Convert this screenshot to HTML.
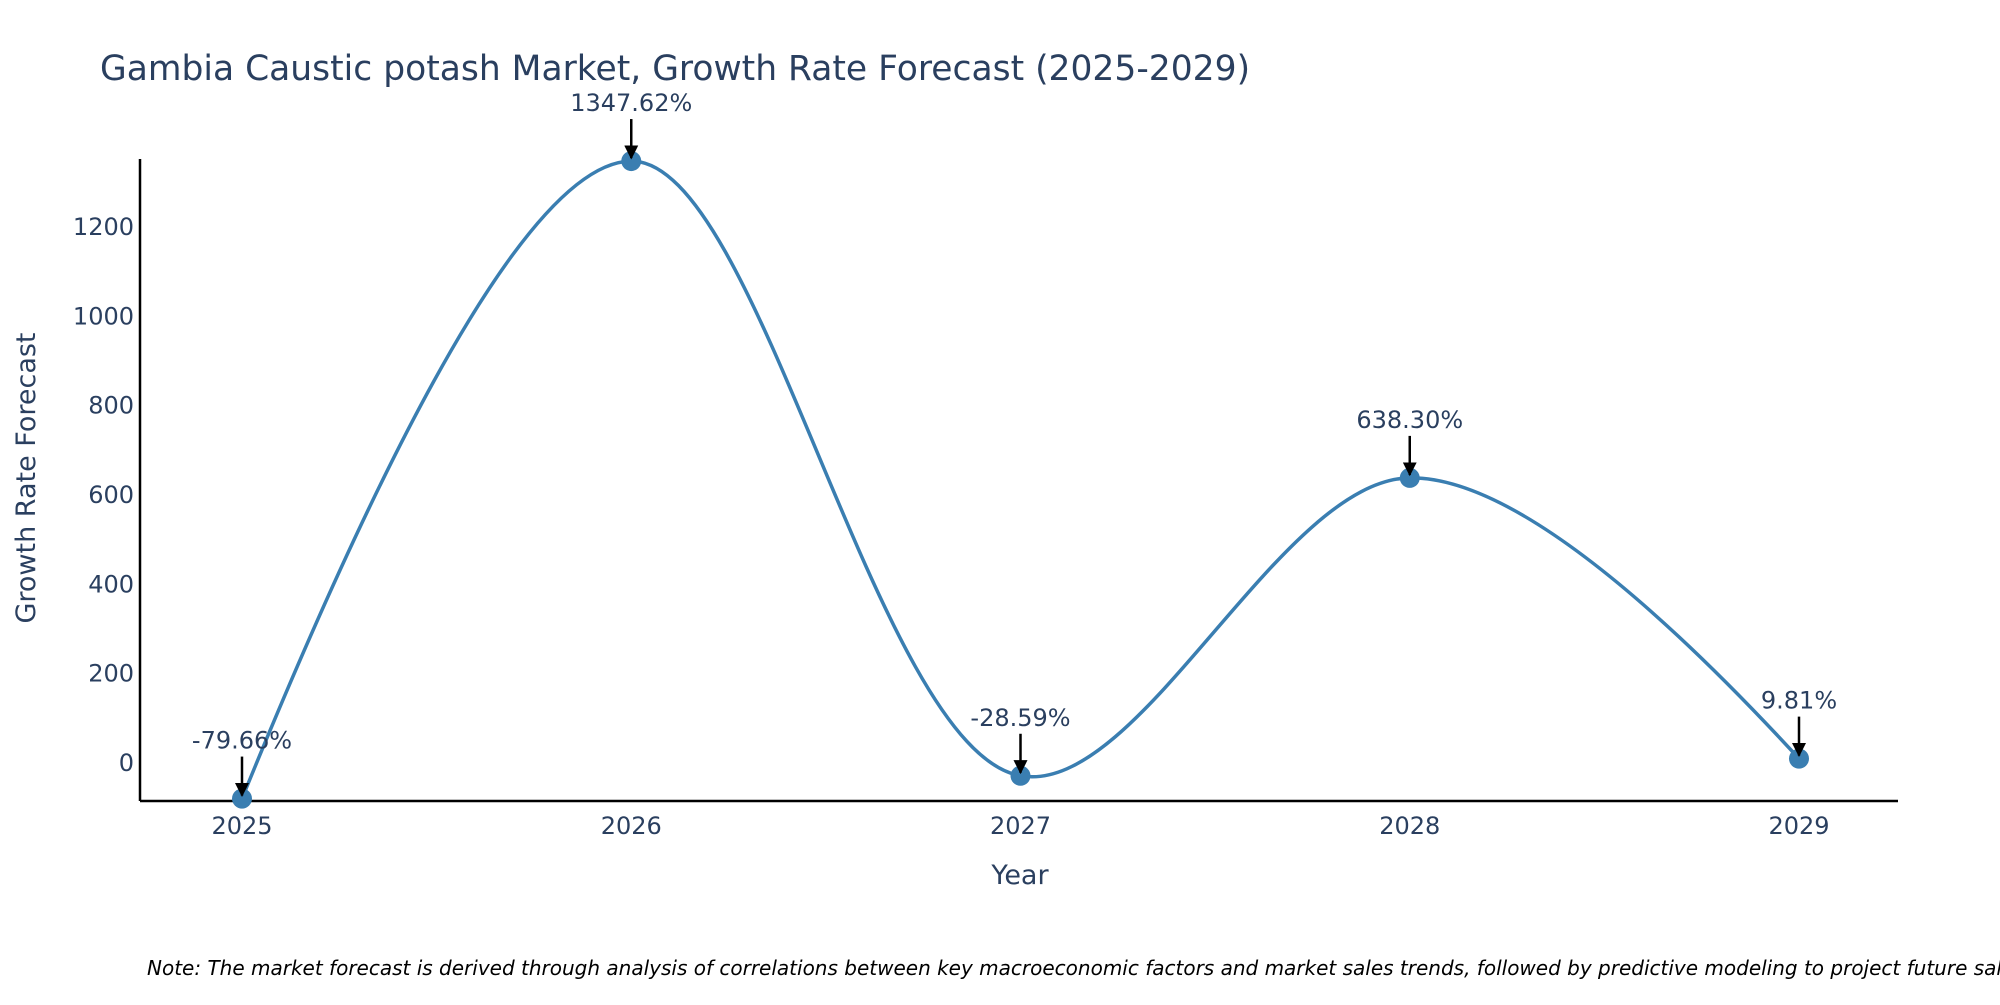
<!DOCTYPE html>
<html><head><meta charset="utf-8"><style>
html,body{margin:0;padding:0;background:#fff;overflow:hidden;}
svg text{font-family:"DejaVu Sans","Liberation Sans",sans-serif;fill:#2a3f5f;}
</style></head><body>
<svg id="chart" width="2000" height="1000" xmlns="http://www.w3.org/2000/svg">
<defs><marker id="ah" viewBox="0 0 10 10" refX="9" refY="5" markerWidth="14" markerHeight="14" markerUnits="userSpaceOnUse" orient="auto"><path d="M0,0L10,5L0,10z" fill="#000"/></marker></defs>
<text x="100" y="80" font-size="34.5">Gambia Caustic potash Market, Growth Rate Forecast (2025-2029)</text>
<g id="plot"></g>
<text x="1020" y="884" font-size="27" text-anchor="middle">Year</text>
<text transform="translate(35,478) rotate(-90)" font-size="27" text-anchor="middle">Growth Rate Forecast</text>
<text x="147" y="975" font-size="20" font-style="italic" style="fill:#000">Note: The market forecast is derived through analysis of correlations between key macroeconomic factors and market sales trends, followed by predictive modeling to project future sales.</text>
</svg>
<script>
const categories = ["2025","2026","2027","2028","2029"];
const values = [-79.66, 1347.62, -28.59, 638.30, 9.81];
const labels = ["-79.66%","1347.62%","-28.59%","638.30%","9.81%"];
const yTicks = [0,200,400,600,800,1000,1200];

const NS="http://www.w3.org/2000/svg";
const g=document.getElementById('plot');
const L=140,R=1898,T=159,B=801;
const xs=i=>242+i*389.25;
const ys=v=>763-v*(536/1200);
function el(t,a){const e=document.createElementNS(NS,t);for(const k in a)e.setAttribute(k,a[k]);g.appendChild(e);return e;}
let ax=el('line',{x1:L,y1:T,x2:L,y2:B,stroke:'#000','stroke-width':2.5});

ax=el('line',{x1:L,y1:B,x2:R,y2:B,stroke:'#000','stroke-width':2.5});

yTicks.forEach(v=>{const t=el('text',{x:L-6,y:ys(v)+8,'font-size':24,'text-anchor':'end'});t.textContent=v;
});
categories.forEach((c,i)=>{const t=el('text',{x:xs(i),y:B+33,'font-size':24,'text-anchor':'middle'});t.textContent=c;
});
const P=values.map((v,i)=>[xs(i),ys(v)]);
function tang(a,b,c,s){const d1x=a[0]-b[0],d1y=a[1]-b[1],d2x=c[0]-b[0],d2y=c[1]-b[1];
const d1a=Math.pow(d1x*d1x+d1y*d1y,0.25),d2a=Math.pow(d2x*d2x+d2y*d2y,0.25);
const nx=(d2a*d2a*d1x-d1a*d1a*d2x)*s,ny=(d2a*d2a*d1y-d1a*d1a*d2y)*s;
const e1=3*d2a*(d1a+d2a),e2=3*d1a*(d1a+d2a);
return [[b[0]+nx/e1,b[1]+ny/e1],[b[0]-nx/e2,b[1]-ny/e2]];}
const tg=[];for(let i=1;i<P.length-1;i++)tg.push(tang(P[i-1],P[i],P[i+1],1));
let d='M'+P[0]+'Q'+tg[0][0]+' '+P[1];
for(let i=2;i<P.length-1;i++)d+='C'+tg[i-2][1]+' '+tg[i-1][0]+' '+P[i];
d+='Q'+tg[P.length-3][1]+' '+P[P.length-1];
const line=el('path',{d:d,fill:'none',stroke:'#3a7eb1','stroke-width':3.5});

P.forEach((p,i)=>{const c=el('circle',{cx:p[0],cy:p[1],r:10,fill:'#3a7eb1'});

const a=el('line',{x1:p[0],y1:p[1]-42,x2:p[0],y2:p[1]-3,stroke:'#000','stroke-width':2.5,'marker-end':'url(#ah)'});

const t=el('text',{x:p[0],y:p[1]-50,'font-size':24,'text-anchor':'middle'});t.textContent=labels[i];
});
</script>
</body></html>
